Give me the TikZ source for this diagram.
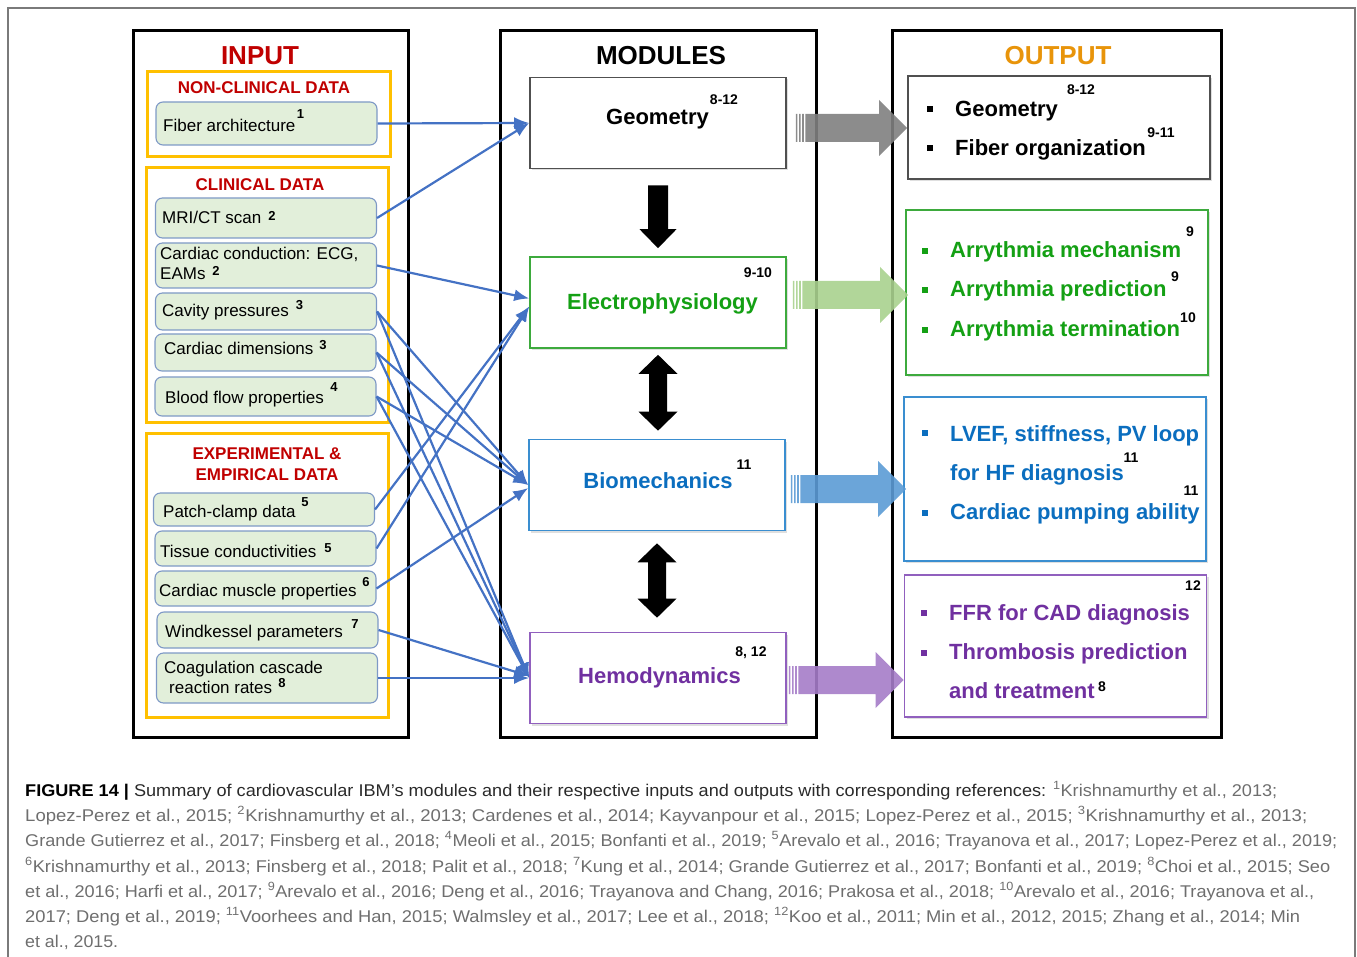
\documentclass[tikz,border=0pt]{standalone}
\usepackage{fontspec}
\usepackage{graphicx}
\setmainfont{Liberation Sans}
\usetikzlibrary{arrows.meta,shadows,calc}

\definecolor{inred}{HTML}{C00000}
\definecolor{outorange}{HTML}{E8940A}
\definecolor{ygold}{HTML}{FFC000}
\definecolor{ingreen}{HTML}{E2EFDA}
\definecolor{inedge}{HTML}{7E99C6}
\definecolor{connblue}{HTML}{4472C4}
\definecolor{epgreen}{HTML}{14A014}
\definecolor{epedge}{HTML}{3DAA3D}
\definecolor{biblue}{HTML}{0B6EBF}
\definecolor{biedge}{HTML}{3A8ED0}
\definecolor{hepurple}{HTML}{7030A0}
\definecolor{heedge}{HTML}{9160BE}
\definecolor{geoedge}{HTML}{505050}
\definecolor{agray}{HTML}{808080}
\definecolor{agreen}{HTML}{A9D18E}
\definecolor{ablue}{HTML}{5B9BD5}
\definecolor{apurple}{HTML}{A57CC8}
\definecolor{capdark}{HTML}{2A2A2A}
\definecolor{capgray}{HTML}{6E6E6E}
\definecolor{framegray}{HTML}{7A7A7A}

% caption line stretched to a given width, natural height kept
\newcommand\capline[2]{\resizebox{#1}{\height}{#2}}
\newcommand\sref[1]{\textsuperscript{#1}}

% wide block arrow with a striped tail: #1 start, #2 tip, #3 colour
\newcommand\fatarrow[3]{%
  \fill[#3, fill opacity=0.9] let \p1=(#1), \p2=(#2) in
    (\x1,\y1+14pt) rectangle (\x1+1.6pt,\y1-14pt)
    (\x1+3.2pt,\y1+14pt) rectangle (\x1+4.8pt,\y1-14pt)
    (\x1+6.4pt,\y1+14pt) rectangle (\x1+8pt,\y1-14pt)
    (\x1+9.6pt,\y1+14pt) -- (\x2-28pt,\y1+14pt) -- (\x2-28pt,\y1+28pt)
    -- (\x2,\y1) -- (\x2-28pt,\y1-28pt) -- (\x2-28pt,\y1-14pt)
    -- (\x1+9.6pt,\y1-14pt) -- cycle;}

% black single-headed downward arrow between two points
\newcommand\blockdown[2]{%
  \fill[black] let \p1=(#1), \p2=(#2) in
    (\x1-10pt,\y1) -- (\x1+10pt,\y1) -- (\x1+10pt,\y2+19pt) -- (\x1+18.5pt,\y2+19pt)
    -- (\x1,\y2) -- (\x1-18.5pt,\y2+19pt) -- (\x1-10pt,\y2+19pt) -- cycle;}

% black double-headed vertical arrow between two points
\newcommand\blocktwoway[2]{%
  \fill[black] let \p1=(#1), \p2=(#2) in
    (\x1,\y1) -- (\x1+19.5pt,\y1-19pt) -- (\x1+9pt,\y1-19pt) -- (\x1+9pt,\y2+19pt)
    -- (\x1+19.5pt,\y2+19pt) -- (\x1,\y2) -- (\x1-19.5pt,\y2+19pt) -- (\x1-9pt,\y2+19pt)
    -- (\x1-9pt,\y1-19pt) -- (\x1-19.5pt,\y1-19pt) -- cycle;}

\begin{document}
\begin{tikzpicture}[x=1pt,y=-1pt,
  colframe/.style={draw=black, line width=3pt, inner sep=0pt},
  yframe/.style={draw=ygold, line width=3pt, inner sep=0pt},
  coltitle/.style={inner sep=0pt, font=\fontsize{26}{30}\selectfont\bfseries},
  grptitle/.style={inner sep=0pt, text=inred, align=center,
    font=\fontsize{17}{21}\selectfont\bfseries},
  inbox/.style={draw=inedge, fill=ingreen, rounded corners=7pt, line width=1.1pt,
    inner sep=0pt, minimum width=221pt},
  intext/.style={anchor=base west, inner sep=0pt, font=\fontsize{17}{20}\selectfont},
  insup/.style={inner sep=0pt, font=\fontsize{13}{14}\selectfont\bfseries},
  modbox/.style={line width=1.6pt, fill=white, inner sep=0pt,
    minimum width=256pt, minimum height=91pt,
    drop shadow={shadow xshift=2pt, shadow yshift=-2pt, opacity=0.25}},
  outbox/.style={line width=1.6pt, fill=white, inner sep=0pt, minimum width=302pt,
    drop shadow={shadow xshift=2pt, shadow yshift=-2pt, opacity=0.25}},
  bigtext/.style={inner sep=0pt, font=\fontsize{22}{26}\selectfont\bfseries},
  modlabel/.style={bigtext, anchor=base},
  outtext/.style={bigtext, anchor=base west},
  refsup/.style={inner sep=0pt, font=\fontsize{14}{15}\selectfont\bfseries},
  bul/.style={inner sep=0pt, minimum size=6.5pt},
  conn/.style={draw=connblue, line width=2.2pt,
    -{Latex[length=15pt,width=12pt]}},
  capl/.style={anchor=base west, inner sep=0pt, font=\fontsize{17}{20}\selectfont},
]
\useasboundingbox (0,0) rectangle (1357,957);

% frame around figure and caption
\draw[framegray, line width=1.2pt] (8,957) -- (8,8) -- (1355,8) -- (1355,957);

% ---------- column frames ----------
\node[colframe, minimum width=275pt, minimum height=706pt] (incol)  at (270.5,384) {};
\node[colframe, minimum width=316pt, minimum height=706pt] (modcol) at (658,384) {};
\node[colframe, minimum width=329pt, minimum height=706pt] (outcol) at (1056.5,384) {};

\node[coltitle, text=inred]     (tin)  at (260,56)  {INPUT};
\node[coltitle, text=black]     (tmod) at (661,56)  {MODULES};
\node[coltitle, text=outorange] (tout) at (1058,56) {OUTPUT};

% ---------- input groups ----------
\node[yframe, minimum width=243pt, minimum height=85pt]  (gnon)  at (268.5,114.5) {};
\node[yframe, minimum width=242pt, minimum height=254pt] (gclin) at (267,295) {};
\node[yframe, minimum width=242pt, minimum height=284pt] (gexp)  at (267,575) {};

\node[grptitle] (hnon)  at (264,88)  {NON-CLINICAL DATA};
\node[grptitle] (hclin) at (260,185) {CLINICAL DATA};
\node[grptitle] (hexp1) at (267,454) {EXPERIMENTAL \&};
\node[grptitle] (hexp2) at (267,475) {EMPIRICAL DATA};

% ---------- input items ----------
\node[inbox, minimum height=43pt] (b1)  at (266.5,123.5) {};
\node[inbox, minimum height=40pt] (b2)  at (266,218) {};
\node[inbox, minimum height=45pt] (b3)  at (266,265.5) {};
\node[inbox, minimum height=37pt] (b4)  at (266,311.5) {};
\node[inbox, minimum height=37pt] (b5)  at (265.5,352.5) {};
\node[inbox, minimum height=39pt] (b6)  at (265.5,396.5) {};
\node[inbox, minimum height=33pt] (b7)  at (264,509.5) {};
\node[inbox, minimum height=35pt] (b8)  at (265.5,548.5) {};
\node[inbox, minimum height=35pt] (b9)  at (265.5,588.5) {};
\node[inbox, minimum height=36pt] (b10) at (267.5,630) {};
\node[inbox, minimum height=50pt] (b11) at (267,678) {};

\node[intext] (t1)  at (163,132) {Fiber architecture};
\node[insup]  (s1)  at (300.5,114.5) {1};
\node[intext] (t2)  at (162,224) {MRI/CT scan};
\node[insup]  (s2)  at (272,216) {2};
\node[intext] (t3a) at (160,260) {Cardiac conduction: ECG,};
\node[intext] (t3b) at (160,280) {EAMs};
\node[insup]  (s3)  at (216,271) {2};
\node[intext] (t4)  at (162,317) {Cavity pressures};
\node[insup]  (s4)  at (299.5,305) {3};
\node[intext] (t5)  at (164,355) {Cardiac dimensions};
\node[insup]  (s5)  at (323,345) {3};
\node[intext] (t6)  at (165,403) {Blood flow properties};
\node[insup]  (s6)  at (334,387) {4};
\node[intext] (t7)  at (163,517) {Patch-clamp data};
\node[insup]  (s7)  at (305,502) {5};
\node[intext] (t8)  at (160,557) {Tissue conductivities};
\node[insup]  (s8)  at (328,548) {5};
\node[intext] (t9)  at (159,596) {Cardiac muscle properties};
\node[insup]  (s9)  at (366,582) {6};
\node[intext] (t10) at (165,637) {Windkessel parameters};
\node[insup]  (s10) at (355,624) {7};
\node[intext] (t11a) at (164,673) {Coagulation cascade};
\node[intext] (t11b) at (169,693) {reaction rates};
\node[insup]  (s11) at (282,683) {8};

% ---------- modules ----------
\node[modbox, draw=geoedge] (geo)  at (658,123)   {};
\node[modbox, draw=epedge]  (ep)   at (658,302.5) {};
\node[modbox, draw=biedge]  (bio)  at (657,485)   {};
\node[modbox, draw=heedge]  (hemo) at (658,678)   {};

\node[modlabel, text=black]    (lgeo)  at (657.5,125) {Geometry};
\node[refsup]                  (rgeo)  at (724,100)   {8-12};
\node[modlabel, text=epgreen]  (lep)   at (662.5,310) {Electrophysiology};
\node[refsup]                  (rep)   at (758,273)   {9-10};
\node[modlabel, text=biblue]   (lbio)  at (658,488)   {Biomechanics};
\node[refsup]                  (rbio)  at (744,465)   {11};
\node[modlabel, text=hepurple] (lhemo) at (659.5,683) {Hemodynamics};
\node[refsup]                  (rhemo) at (751,653)   {8, 12};

% coupling between modules
\blockdown{[yshift=-16pt]geo.south}{[yshift=8pt]ep.north}
\blocktwoway{[yshift=-6pt]ep.south}{[yshift=8pt]bio.north}
\blocktwoway{[yshift=-12pt]bio.south}{[yshift=14pt]hemo.north}

% ---------- outputs ----------
\node[outbox, draw=geoedge, minimum height=103pt] (ob1) at (1059,127.5) {};
\node[outbox, draw=epedge,  minimum height=165pt] (ob2) at (1057,292.5) {};
\node[outbox, draw=biedge,  minimum height=164pt] (ob3) at (1055,479)   {};
\node[outbox, draw=heedge,  minimum height=142pt] (ob4) at (1055.5,646) {};

\node[bul, fill=black] (q1) at (930,109) {};
\node[bul, fill=black] (q2) at (930,148) {};
\node[outtext, text=black] (o1) at (955,117) {Geometry};
\node[outtext, text=black] (o2) at (955,156) {Fiber organization};
\node[refsup] (r1) at (1081,90)  {8-12};
\node[refsup] (r2) at (1161,133) {9-11};

\node[bul, fill=epgreen] (q3) at (925,251) {};
\node[bul, fill=epgreen] (q4) at (925,290) {};
\node[bul, fill=epgreen] (q5) at (925,330) {};
\node[outtext, text=epgreen] (o3) at (950,258) {Arrythmia mechanism};
\node[outtext, text=epgreen] (o4) at (950,297) {Arrythmia prediction};
\node[outtext, text=epgreen] (o5) at (950,337) {Arrythmia termination};
\node[refsup] (r3) at (1190,232) {9};
\node[refsup] (r4) at (1175,277) {9};
\node[refsup] (r5) at (1188,318) {10};

\node[bul, fill=biblue] (q6) at (925,433) {};
\node[bul, fill=biblue] (q7) at (925,513) {};
\node[outtext, text=biblue] (o6) at (950,441) {LVEF, stiffness, PV loop};
\node[outtext, text=biblue] (o7) at (950,480) {for HF diagnosis};
\node[outtext, text=biblue] (o8) at (950,519) {Cardiac pumping ability};
\node[refsup] (r6) at (1131,458) {11};
\node[refsup] (r7) at (1191,491) {11};

\node[bul, fill=hepurple] (q8) at (924,613) {};
\node[bul, fill=hepurple] (q9) at (924,653) {};
\node[outtext, text=hepurple] (o9)  at (949,620) {FFR for CAD diagnosis};
\node[outtext, text=hepurple] (o10) at (949,659) {Thrombosis prediction};
\node[outtext, text=hepurple] (o11) at (949,698) {and treatment};
\node[refsup] (r8) at (1193,586) {12};
\node[refsup] (r9) at (1102,687) {8};

% module -> output block arrows
\fatarrow{[xshift=9pt,yshift=-5pt]geo.east}{ob1.west}{agray}
\fatarrow{[xshift=6pt,yshift=7.5pt]ep.east}{[xshift=3pt]ob2.west}{agreen}
\fatarrow{[xshift=5pt,yshift=-4pt]bio.east}{[xshift=3pt]ob3.west}{ablue}
\fatarrow{[xshift=2pt,yshift=-2pt]hemo.east}{ob4.west}{apurple}

% ---------- input -> module connectors ----------
\draw[conn] (b1.east) -- (geo.west);
\draw[conn] (b2.east) -- (geo.west);
\draw[conn] (b3.east) -- ([yshift=4pt]ep.west);
\draw[conn] (b4.east) -- (bio.west);
\draw[conn] (b4.east) -- (hemo.west);
\draw[conn] (b5.east) -- (bio.west);
\draw[conn] (b5.east) -- (hemo.west);
\draw[conn] (b6.east) -- (bio.west);
\draw[conn] (b6.east) -- (hemo.west);
\draw[conn] (b7.east) -- ([yshift=-4pt]ep.west);
\draw[conn] (b8.east) -- ([yshift=-4pt]ep.west);
\draw[conn] (b9.east) -- ([yshift=-3pt]bio.west);
\draw[conn] (b10.east) -- ([yshift=2pt]hemo.west);
\draw[conn] (b11.east) -- (hemo.west);

% ---------- caption ----------
\node[capl] (cap1) at (25,796) {\capline{1252pt}{{\color{black}\bfseries FIGURE 14 |} {\color{capdark}Summary of cardiovascular IBM’s modules and their respective inputs and outputs with corresponding references:} {\color{capgray}\sref{1}Krishnamurthy et al., 2013;}}};
\node[capl, text=capgray] (cap2) at (25,821) {\capline{1282pt}{Lopez-Perez et al., 2015; \sref{2}Krishnamurthy et al., 2013; Cardenes et al., 2014; Kayvanpour et al., 2015; Lopez-Perez et al., 2015; \sref{3}Krishnamurthy et al., 2013;}};
\node[capl, text=capgray] (cap3) at (25,846) {\capline{1312pt}{Grande Gutierrez et al., 2017; Finsberg et al., 2018; \sref{4}Meoli et al., 2015; Bonfanti et al., 2019; \sref{5}Arevalo et al., 2016; Trayanova et al., 2017; Lopez-Perez et al., 2019;}};
\node[capl, text=capgray] (cap4) at (25,872) {\capline{1305pt}{\sref{6}Krishnamurthy et al., 2013; Finsberg et al., 2018; Palit et al., 2018; \sref{7}Kung et al., 2014; Grande Gutierrez et al., 2017; Bonfanti et al., 2019; \sref{8}Choi et al., 2015; Seo}};
\node[capl, text=capgray] (cap5) at (25,897) {\capline{1289pt}{et al., 2016; Harfi et al., 2017; \sref{9}Arevalo et al., 2016; Deng et al., 2016; Trayanova and Chang, 2016; Prakosa et al., 2018; \sref{10}Arevalo et al., 2016; Trayanova et al.,}};
\node[capl, text=capgray] (cap6) at (25,922) {\capline{1275pt}{2017; Deng et al., 2019; \sref{11}Voorhees and Han, 2015; Walmsley et al., 2017; Lee et al., 2018; \sref{12}Koo et al., 2011; Min et al., 2012, 2015; Zhang et al., 2014; Min}};
\node[capl, text=capgray] (cap7) at (25,947) {\capline{93pt}{et al., 2015.}};
\end{tikzpicture}
\end{document}
